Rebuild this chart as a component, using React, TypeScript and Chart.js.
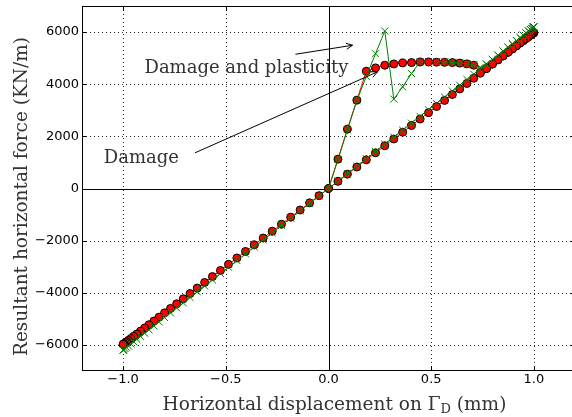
import React, { useEffect, useRef } from "react";
import { Chart, registerables } from "chart.js";

Chart.register(...registerables);

// Horizontal displacement on Gamma_D (mm): loading 0 -> 1, then unloading 1 -> -1
const displacement = [
  0, 0.046, 0.092, 0.138, 0.184, 0.229, 0.274, 0.318, 0.361, 0.404,
  0.446, 0.487, 0.526, 0.565, 0.603, 0.639, 0.674, 0.707, 0.739, 0.769,
  0.798, 0.825, 0.85, 0.874, 0.895, 0.915, 0.933, 0.948, 0.962, 0.974,
  0.983, 0.99, 0.996, 0.999, 1.0,
  0.999, 0.996, 0.99, 0.983, 0.974, 0.962, 0.948, 0.933, 0.915, 0.895,
  0.874, 0.85, 0.825, 0.798, 0.769, 0.739, 0.707, 0.674, 0.639, 0.603,
  0.565, 0.526, 0.487, 0.446, 0.404, 0.361, 0.318, 0.274, 0.229, 0.184,
  0.138, 0.092, 0.046, 0,
  -0.046, -0.092, -0.138, -0.184, -0.229, -0.274, -0.318, -0.361, -0.404, -0.446,
  -0.487, -0.526, -0.565, -0.603, -0.639, -0.674, -0.707, -0.739, -0.769, -0.798,
  -0.825, -0.85, -0.874, -0.895, -0.915, -0.933, -0.948, -0.962, -0.974, -0.983,
  -0.99, -0.996, -0.999, -1.0,
];

// Resultant horizontal force (KN/m), damage model (red circles)
const forceDamage = [
  0, 1126, 2276, 3387, 4498, 4625, 4728, 4778, 4816, 4830,
  4850, 4850, 4845, 4840, 4830, 4810, 4780, 4730, 4450, 4605,
  4775, 4935, 5085, 5225, 5355, 5475, 5580, 5675, 5755, 5825,
  5880, 5925, 5955, 5975, 5980,
  5975, 5955, 5920, 5880, 5825, 5755, 5670, 5580, 5470, 5350,
  5225, 5085, 4935, 4770, 4600, 4420, 4230, 4030, 3820, 3605,
  3380, 3145, 2910, 2665, 2415, 2160, 1900, 1640, 1370, 1100,
  825, 550, 275, 0,
  -275, -550, -825, -1100, -1370, -1640, -1900, -2160, -2415, -2665,
  -2910, -3145, -3380, -3605, -3820, -4030, -4230, -4420, -4600, -4770,
  -4935, -5085, -5225, -5350, -5470, -5580, -5670, -5755, -5825, -5880,
  -5920, -5955, -5975, -5980,
];

// Resultant horizontal force (KN/m), damage and plasticity model (green crosses)
const forceDamagePlasticity = [
  0, 1110, 2250, 3370, 4300, 5170, 6040, 3430, 3900, 4410,
  4860, 4870, 4865, 4855, 4840, 4815, 4785, 4740, 4650, 4770,
  4950, 5115, 5270, 5420, 5550, 5675, 5785, 5880, 5965, 6040,
  6095, 6140, 6175, 6195, 6200,
  6195, 6175, 6140, 6095, 6040, 5965, 5880, 5785, 5675, 5550,
  5420, 5270, 5115, 4950, 4770, 4580, 4385, 4180, 3960, 3740,
  3505, 3260, 3020, 2765, 2505, 2240, 1970, 1700, 1420, 1140,
  855, 570, 285, 0,
  -285, -570, -855, -1140, -1420, -1700, -1970, -2240, -2505, -2765,
  -3020, -3260, -3505, -3740, -3960, -4180, -4385, -4580, -4770, -4950,
  -5115, -5270, -5420, -5550, -5675, -5785, -5880, -5965, -6040, -6095,
  -6140, -6175, -6195, -6200,
];

const xTickValues = [-1, -0.5, 0, 0.5, 1];
const yTickValues = [-6000, -4000, -2000, 0, 2000, 4000, 6000];
const xRange = [-1.2, 1.2];
const yRange = [-7000, 7000];

const xTitleMain = "Horizontal displacement on \u0393";
const xTitleSub = "D";
const xTitleEnd = " (mm)";
const yTitle = "Resultant horizontal force (KN/m)";

const annotationLabels = ["Damage and plasticity", "Damage"];
const annotationTextX = [-0.896, -1.094];
const annotationTextY = [4444, 985];
const arrowFromX = [-0.161, -0.65];
const arrowFromY = [5149, 1368];
const arrowToX = [0.117, 0.238];
const arrowToY = [5494, 4471];

const serif = "'DejaVu Serif', serif";
const sans = "'DejaVu Sans', sans-serif";
const textGrey = "#333";

const fmtX = (v: number) => (v < 0 ? "\u2212" : "") + Math.abs(v).toFixed(1);
const fmtY = (v: number) => (v < 0 ? "\u2212" : "") + Math.abs(v).toFixed(0);

function drawArrow(ctx: CanvasRenderingContext2D, x1: number, y1: number, x2: number, y2: number) {
  ctx.beginPath();
  ctx.moveTo(x1, y1);
  ctx.lineTo(x2, y2);
  ctx.stroke();
  const ang = Math.atan2(y2 - y1, x2 - x1);
  const L = 7;
  const w = 0.45;
  ctx.beginPath();
  ctx.moveTo(x2 - L * Math.cos(ang - w), y2 - L * Math.sin(ang - w));
  ctx.lineTo(x2, y2);
  ctx.lineTo(x2 - L * Math.cos(ang + w), y2 - L * Math.sin(ang + w));
  ctx.stroke();
}

const decorPlugin = {
  id: "decor",
  beforeDatasetsDraw(chart: any) {
    const { ctx, chartArea: a, scales } = chart;
    const xs = scales.x;
    const ys = scales.y;
    ctx.save();
    ctx.lineWidth = 1;
    ctx.strokeStyle = "rgba(0,0,0,0.85)";
    ctx.setLineDash([1, 3]);
    xTickValues.forEach((v) => {
      if (v === 0) return;
      const px = Math.round(xs.getPixelForValue(v)) + 0.5;
      ctx.beginPath();
      ctx.moveTo(px, a.top);
      ctx.lineTo(px, a.bottom);
      ctx.stroke();
    });
    yTickValues.forEach((v) => {
      if (v === 0) return;
      const py = Math.round(ys.getPixelForValue(v)) + 0.5;
      ctx.beginPath();
      ctx.moveTo(a.left, py);
      ctx.lineTo(a.right, py);
      ctx.stroke();
    });
    ctx.setLineDash([]);
    ctx.strokeStyle = "#000";
    const x0 = Math.round(xs.getPixelForValue(0)) + 0.5;
    const y0 = Math.round(ys.getPixelForValue(0)) + 0.5;
    ctx.beginPath();
    ctx.moveTo(x0, a.top);
    ctx.lineTo(x0, a.bottom);
    ctx.moveTo(a.left, y0);
    ctx.lineTo(a.right, y0);
    ctx.stroke();
    ctx.restore();
  },
  afterDatasetsDraw(chart: any) {
    const { ctx, chartArea: a, scales } = chart;
    const xs = scales.x;
    const ys = scales.y;
    ctx.save();
    ctx.strokeStyle = "#000";
    ctx.lineWidth = 1;
    const L = Math.round(a.left) + 0.5;
    const R = Math.round(a.right) - 0.5;
    const T = Math.round(a.top) + 0.5;
    const B = Math.round(a.bottom) - 0.5;
    ctx.strokeRect(L, T, R - L, B - T);
    const tl = 4;
    ctx.beginPath();
    xTickValues.forEach((v) => {
      const px = Math.round(xs.getPixelForValue(v)) + 0.5;
      ctx.moveTo(px, B);
      ctx.lineTo(px, B - tl);
      ctx.moveTo(px, T);
      ctx.lineTo(px, T + tl);
    });
    yTickValues.forEach((v) => {
      const py = Math.round(ys.getPixelForValue(v)) + 0.5;
      ctx.moveTo(L, py);
      ctx.lineTo(L + tl, py);
      ctx.moveTo(R, py);
      ctx.lineTo(R - tl, py);
    });
    ctx.stroke();
    ctx.restore();
  },
  afterDraw(chart: any) {
    const { ctx, chartArea: a, scales } = chart;
    const xs = scales.x;
    const ys = scales.y;
    ctx.save();
    ctx.fillStyle = textGrey;
    ctx.textBaseline = "alphabetic";
    ctx.textAlign = "left";

    // x title with subscript
    const titleFont = `18.5px ${serif}`;
    const mainFont = `18px ${serif}`;
    const subFont = `13px ${serif}`;
    ctx.font = titleFont;
    const w1 = ctx.measureText(xTitleMain).width;
    const w3 = ctx.measureText(xTitleEnd).width;
    ctx.font = subFont;
    const w2 = ctx.measureText(xTitleSub).width;
    const total = w1 + w2 + w3;
    const cx = (a.left + a.right) / 2 + 6;
    let sx = cx - total / 2;
    const base = a.bottom + 39;
    ctx.font = titleFont;
    ctx.fillText(xTitleMain, sx, base);
    sx += w1;
    ctx.font = subFont;
    ctx.fillText(xTitleSub, sx, base + 3);
    sx += w2;
    ctx.font = titleFont;
    ctx.fillText(xTitleEnd, sx, base);

    // y title
    ctx.save();
    ctx.translate(27, (a.top + a.bottom) / 2 + 8);
    ctx.rotate(-Math.PI / 2);
    ctx.textAlign = "center";
    ctx.font = titleFont;
    ctx.fillText(yTitle, 0, 0);
    ctx.restore();

    // annotations
    ctx.font = mainFont;
    ctx.textAlign = "left";
    annotationLabels.forEach((label, i) => {
      ctx.fillStyle = textGrey;
      ctx.fillText(label, xs.getPixelForValue(annotationTextX[i]), ys.getPixelForValue(annotationTextY[i]));
      ctx.strokeStyle = "#000";
      ctx.lineWidth = 1;
      drawArrow(
        ctx,
        xs.getPixelForValue(arrowFromX[i]),
        ys.getPixelForValue(arrowFromY[i]),
        xs.getPixelForValue(arrowToX[i]),
        ys.getPixelForValue(arrowToY[i])
      );
    });
    ctx.restore();
  },
};

export default function App() {
  const ref = useRef<HTMLCanvasElement>(null);
  useEffect(() => {
    const canvas = ref.current;
    if (!canvas) return;
    const chart = new Chart(canvas, {
      type: "scatter",
      data: {
        datasets: [
          {
            label: "Damage and plasticity",
            data: displacement.map((x, i) => ({ x, y: forceDamagePlasticity[i] })),
            showLine: true,
            borderColor: "#008000",
            borderWidth: 1,
            pointStyle: "crossRot",
            pointRadius: 5,
            pointBorderColor: "#008000",
            pointBackgroundColor: "#008000",
            pointBorderWidth: 1,
            tension: 0,
          },
          {
            label: "Damage",
            data: displacement.map((x, i) => ({ x, y: forceDamage[i] })),
            showLine: true,
            borderColor: "#ff0000",
            borderWidth: 1,
            pointStyle: "circle",
            pointRadius: 4,
            pointBackgroundColor: "#ff0000",
            pointBorderColor: "#000",
            pointBorderWidth: 1,
            tension: 0,
          },
        ],
      },
      options: {
        responsive: false,
        animation: false,
        devicePixelRatio: 1,
        layout: { padding: { top: 4, right: 1, left: 0, bottom: 0 } },
        plugins: { legend: { display: false }, tooltip: { enabled: false } },
        events: [],
        scales: {
          x: {
            type: "linear",
            position: "bottom",
            min: xRange[0],
            max: xRange[1],
            afterBuildTicks: (s: any) => {
              s.ticks = xTickValues.map((value) => ({ value }));
            },
            afterFit: (s: any) => {
              s.height = 46;
              s.paddingLeft = 0;
              s.paddingRight = 0;
            },
            ticks: {
              callback: (v: any) => fmtX(Number(v)),
              font: { family: sans, size: 13 },
              color: "#000",
              padding: 1,
              maxRotation: 0,
              autoSkip: false,
            },
            grid: { display: false, drawTicks: false },
            border: { display: false },
          },
          y: {
            type: "linear",
            min: yRange[0],
            max: yRange[1],
            afterBuildTicks: (s: any) => {
              s.ticks = yTickValues.map((value) => ({ value }));
            },
            afterFit: (s: any) => {
              s.width = 82;
              s.paddingTop = 0;
              s.paddingBottom = 0;
            },
            ticks: {
              callback: (v: any) => fmtY(Number(v)),
              font: { family: sans, size: 13 },
              color: "#000",
              padding: 3,
              autoSkip: false,
            },
            grid: { display: false, drawTicks: false },
            border: { display: false },
          },
        },
      },
      plugins: [decorPlugin],
    });
    return () => chart.destroy();
  }, []);
  return (
    <div
      style={{
        position: "fixed",
        left: 0,
        top: 0,
        width: 572,
        height: 417,
        overflow: "hidden",
        background: "#fff",
      }}
    >
      <canvas ref={ref} width={581} height={417} style={{ display: "block", width: 581, height: 417 }} />
    </div>
  );
}
